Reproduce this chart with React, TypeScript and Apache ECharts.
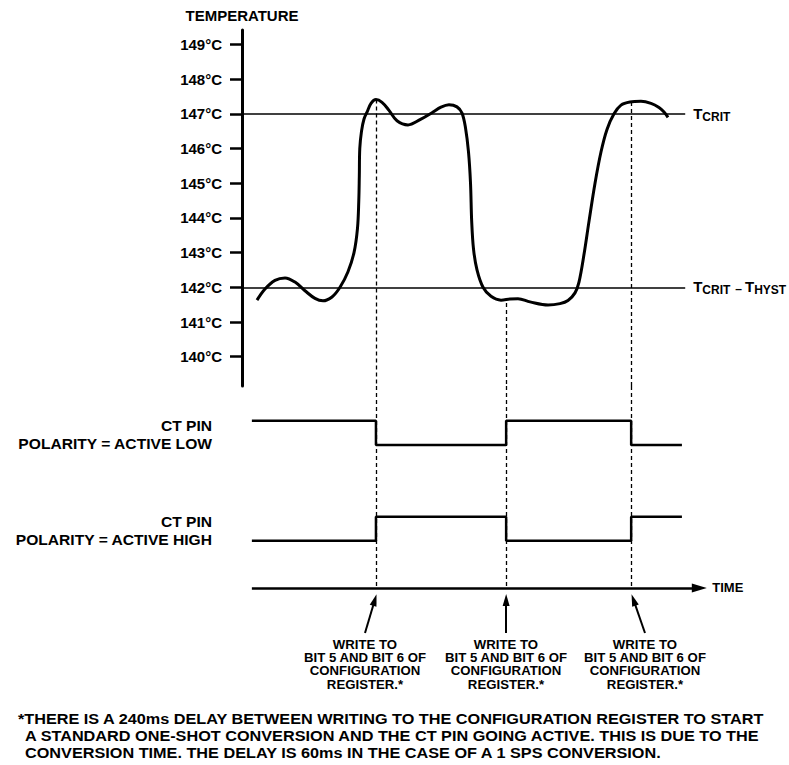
import React, { useEffect, useRef } from "react";
import * as echarts from "echarts";

// ---------- data ----------
const tempTicks = [140, 141, 142, 143, 144, 145, 146, 147, 148, 149];
const tCrit = 147;
const tCritMinusHyst = 142;

// temperature trace (time in arbitrary units, °C)
const curveTime = [
  3.19, 4.89, 7.02, 9.15, 11.28, 13.4, 15.53, 17.23, 19.15, 20.85, 22.55, 23.83, 24.57, 24.85, 24.96,
  25.06, 25.43, 25.96, 26.6, 27.45, 28.51, 29.79, 31.28, 32.98, 35.32, 37.87, 40.43, 42.34, 44.04,
  45.74, 46.81, 47.55, 48.19, 48.62, 48.87, 49.26, 50.0, 51.28, 52.98, 55.11, 57.02, 58.72, 61.28,
  65.11, 67.66, 69.36, 70.85, 71.7, 72.77, 73.83, 75.11, 76.38, 77.66, 79.15, 80.64, 82.55, 84.89,
  87.02, 88.72, 89.79, 90.64,
];
const curveTemp = [
  141.63, 141.95, 142.2, 142.27, 142.15, 141.9, 141.68, 141.61, 141.72, 142.0, 142.45, 143.0, 143.7,
  144.5, 145.2, 146.0, 146.5, 146.85, 147.05, 147.3, 147.41, 147.33, 147.1, 146.8, 146.68, 146.83,
  147.03, 147.19, 147.26, 147.2, 147.02, 146.6, 145.9, 145.0, 143.9, 143.1, 142.5, 142.0, 141.74,
  141.63, 141.66, 141.67, 141.58, 141.49, 141.53, 141.62, 141.84, 142.15, 142.95, 143.9, 145.0,
  145.9, 146.55, 147.0, 147.25, 147.34, 147.36, 147.3, 147.18, 147.05, 146.9,
];

// CT pin digital traces
const stepTimes = [2.1, 28.5, 56.2, 82.8, 93.6];
const ctActiveLow = [1, 0, 1, 0, 0];
const ctActiveHigh = [0, 1, 0, 1, 1];

// configuration-register writes
const writeEvents = [28.5, 56.2, 82.8];
const dashTopTemps = [147.41, 141.55, 147.34];
const arrowTails = [26.17, 56.17, 85.74];
const arrowTips = [28.26, 56.2, 83.3];

const lineEndTime = 94.3;
const timeAxisStart = 2.1;
const timeAxisEnd = 97.3;

const writeLabelLines = ["WRITE TO", "BIT 5 AND BIT 6 OF", "CONFIGURATION", "REGISTER.*"];
const footnoteLines = [
  "*THERE IS A 240ms DELAY BETWEEN WRITING TO THE CONFIGURATION REGISTER TO START",
  "A STANDARD ONE-SHOT CONVERSION AND THE CT PIN GOING ACTIVE. THIS IS DUE TO THE",
  "CONVERSION TIME. THE DELAY IS 60ms IN THE CASE OF A 1 SPS CONVERSION.",
];
const pinLabels = [
  ["CT PIN", "POLARITY = ACTIVE LOW"],
  ["CT PIN", "POLARITY = ACTIVE HIGH"],
];

export default function App() {
  const ref = useRef<HTMLDivElement>(null);

  useEffect(() => {
    const chart = echarts.init(ref.current!, null, { renderer: "svg" });
    const font = '"Liberation Sans", Arial, Helvetica, sans-serif';
    const black = "#000";

    const yMin0 = 139.156;
    const yMax0 = 149.415;
    const yMin1 = -2;
    const yMax1 = 8.9;
    const lowBase = 6.45;
    const highBase = 2.46;
    const timeAxisY = 0.5;
    const tailY = -1.377;
    const tipY = 0;

    const curve = curveTime.map((t, i) => [t, curveTemp[i]]);
    const lowData = stepTimes.map((t, i) => [t, lowBase + ctActiveLow[i]]);
    const highData = stepTimes.map((t, i) => [t, highBase + ctActiveHigh[i]]);

    const dashStyle = { color: black, width: 1.3, type: [4, 3] as number[] };
    const arrowStyle = { color: black, width: 2, type: "solid" };
    const axisStyle = { color: black, width: 2.5, type: "solid" };
    const noLabel = { show: false };

    const subRich = {
      t: { fontSize: 15, fontWeight: "bold", fontFamily: font, color: black, lineHeight: 16, verticalAlign: "top" },
      s: {
        fontSize: 12,
        fontWeight: "bold",
        fontFamily: font,
        color: black,
        lineHeight: 13,
        verticalAlign: "top",
        padding: [5, 0, 0, 0],
      },
      d: {
        fontSize: 12,
        fontWeight: "bold",
        fontFamily: font,
        color: black,
        lineHeight: 13,
        verticalAlign: "top",
        padding: [4, 3, 0, 5],
      },
    };

    const tempMarkLines: any[] = [
      [
        { coord: [0, tCrit], symbol: "none" },
        {
          coord: [lineEndTime, tCrit],
          symbol: "none",
          label: { show: true, position: "end", distance: 8, formatter: "{t|T}{s|CRIT}", rich: subRich },
        },
      ],
      [
        { coord: [0, tCritMinusHyst], symbol: "none" },
        {
          coord: [lineEndTime, tCritMinusHyst],
          symbol: "none",
          label: {
            show: true,
            position: "end",
            distance: 8,
            formatter: "{t|T}{s|CRIT}{d|–}{t|T}{s|HYST}",
            rich: subRich,
          },
        },
      ],
    ];
    writeEvents.forEach((t, i) => {
      tempMarkLines.push([
        { coord: [t, dashTopTemps[i]], symbol: "none", lineStyle: dashStyle, label: noLabel },
        { coord: [t, yMin0], symbol: "none", lineStyle: dashStyle, label: noLabel },
      ]);
    });

    const lowerMarkLines: any[] = [];
    writeEvents.forEach((t) => {
      lowerMarkLines.push([
        { coord: [t, yMax1], symbol: "none", lineStyle: dashStyle, label: noLabel },
        { coord: [t, timeAxisY], symbol: "none", lineStyle: dashStyle, label: noLabel },
      ]);
    });
    arrowTails.forEach((t, i) => {
      lowerMarkLines.push([
        { coord: [t, tailY], symbol: "none", lineStyle: arrowStyle, label: noLabel },
        {
          coord: [arrowTips[i], tipY],
          symbol: "triangle",
          symbolSize: [7, 12],
          lineStyle: arrowStyle,
          label: noLabel,
        },
      ]);
    });
    lowerMarkLines.push([
      { coord: [timeAxisStart, timeAxisY], symbol: "none", lineStyle: axisStyle },
      {
        coord: [timeAxisEnd, timeAxisY],
        symbol: "triangle",
        symbolSize: [9, 15],
        lineStyle: axisStyle,
        label: {
          show: true,
          position: "end",
          distance: 13,
          formatter: "TIME",
          fontSize: 13,
          fontWeight: "bold",
          fontFamily: font,
          color: black,
        },
      },
    ]);

    const option: any = {
      animation: false,
      backgroundColor: "#fff",
      grid: [
        { left: 242, top: 30, width: 470, height: 356 },
        { left: 242, top: 386, width: 470, height: 262 },
      ],
      xAxis: [
        { gridIndex: 0, type: "value", min: 0, max: 100, show: false },
        { gridIndex: 1, type: "value", min: 0, max: 100, show: false },
      ],
      yAxis: [
        {
          gridIndex: 0,
          type: "value",
          min: yMin0,
          max: yMax0,
          name: "TEMPERATURE",
          nameLocation: "end",
          nameGap: 7,
          nameTextStyle: { fontSize: 15, fontWeight: "bold", color: black, fontFamily: font },
          axisLine: { show: true, onZero: false, lineStyle: { color: black, width: 3 } },
          axisTick: {
            show: true,
            length: 12,
            customValues: tempTicks,
            lineStyle: { color: black, width: 2.5 },
          },
          axisLabel: {
            show: true,
            margin: 20,
            customValues: tempTicks,
            formatter: "{value}°C",
            fontSize: 15,
            fontWeight: "bold",
            color: black,
            fontFamily: font,
          },
          splitLine: { show: false },
        },
        { gridIndex: 1, type: "value", min: yMin1, max: yMax1, show: false },
      ],
      series: [
        {
          type: "line",
          xAxisIndex: 0,
          yAxisIndex: 0,
          data: curve,
          smooth: 0.35,
          symbol: "none",
          showSymbol: false,
          silent: true,
          z: 3,
          lineStyle: { color: black, width: 3 },
          markLine: {
            silent: true,
            animation: false,
            symbol: ["none", "none"],
            lineStyle: { color: black, width: 1.5, type: "solid" },
            label: { show: false },
            emphasis: { disabled: true },
            data: tempMarkLines,
          },
        },
        {
          type: "line",
          xAxisIndex: 1,
          yAxisIndex: 1,
          data: lowData,
          step: "end",
          symbol: "none",
          showSymbol: false,
          silent: true,
          lineStyle: { color: black, width: 2.5 },
          markLine: {
            silent: true,
            animation: false,
            symbol: ["none", "none"],
            lineStyle: { color: black, width: 2, type: "solid" },
            label: { show: false },
            emphasis: { disabled: true },
            data: lowerMarkLines,
          },
        },
        {
          type: "line",
          xAxisIndex: 1,
          yAxisIndex: 1,
          data: highData,
          step: "end",
          symbol: "none",
          showSymbol: false,
          silent: true,
          lineStyle: { color: black, width: 2.5 },
        },
      ],
    };

    chart.setOption(option);

    // text blocks placed from converted data positions
    const graphics: any[] = [];
    const textBase = { fill: black, fontFamily: font, fontWeight: "bold" };

    arrowTails.forEach((t) => {
      const p = chart.convertToPixel({ gridIndex: 1 } as any, [t, tailY]) as number[];
      graphics.push({
        type: "text",
        x: p[0],
        y: p[1] + 5,
        scaleX: 1.1,
        silent: true,
        style: {
          ...textBase,
          text: writeLabelLines.join("\n"),
          fontSize: 12,
          lineHeight: 13.4,
          align: "center",
          textAlign: "center",
          verticalAlign: "top",
          textVerticalAlign: "top",
        },
      });
    });

    const pinTop = [
      chart.convertToPixel({ gridIndex: 1 } as any, [0, lowBase + 1]) as number[],
      chart.convertToPixel({ gridIndex: 1 } as any, [0, highBase + 1]) as number[],
    ];
    pinLabels.forEach((lines, i) => {
      const y0 = pinTop[i][1];
      lines.forEach((txt, j) => {
        graphics.push({
          type: "text",
          x: 212,
          y: y0 + 4.5 + j * 18.6,
          scaleX: 1.04,
          silent: true,
          style: {
            ...textBase,
            text: txt,
            fontSize: 15,
            align: "right",
            textAlign: "right",
            verticalAlign: "middle",
            textVerticalAlign: "middle",
          },
        });
      });
    });

    footnoteLines.forEach((txt, i) => {
      graphics.push({
        type: "text",
        x: i === 0 ? 18 : 25,
        y: 719 + i * 17,
        scaleX: 1.16,
        silent: true,
        style: {
          ...textBase,
          text: txt,
          fontSize: 14,
          align: "left",
          textAlign: "left",
          verticalAlign: "middle",
          textVerticalAlign: "middle",
        },
      });
    });

    chart.setOption({ graphic: graphics });

    return () => {
      chart.dispose();
    };
  }, []);

  return (
    <div
      ref={ref}
      style={{ position: "fixed", left: 0, top: 0, width: 789, height: 765, background: "#fff" }}
    />
  );
}
